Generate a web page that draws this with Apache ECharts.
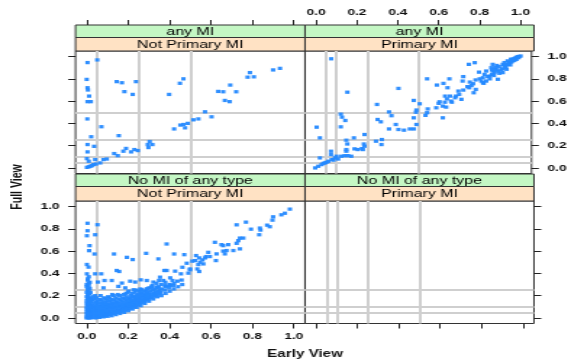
<!DOCTYPE html>
<html>
<head>
<meta charset="utf-8">
<script src="https://cdn.jsdelivr.net/npm/echarts@6/dist/echarts.min.js"></script>
<style>
  html, body { margin: 0; padding: 0; background: #fff; overflow: hidden; }
  /* the reference is stretched sideways, so draw narrow and widen with css */
  #chart { width: 394px; height: 363px; transform: scaleX(1.4492); transform-origin: 0 0; }
</style>
</head>
<body>
<div id="chart"></div>
<script>
const SX = 571 / 394;
function X(px) { return px / SX; }

// panel labels
const outerLevels = ["any MI", "No MI of any type"];
const innerLevels = ["Not Primary MI", "Primary MI"];
const tickValues = [0, 0.2, 0.4, 0.6, 0.8, 1.0];

// reference lines
const refXLeft = [0.05, 0.25, 0.5];
const refXRight = [0.05, 0.1, 0.25, 0.5];
const refYTop = [0.05, 0.1, 0.25, 0.5];
const refYBottom = [0.05, 0.1, 0.25];

// any MI / Not Primary MI  [early, full]
const anyNotPrimary = [
  [0.004,0.946],[0.051,0.97],[0.0,0.795],[0.004,0.72],[0.006,0.70],[0.012,0.645],[0.004,0.595],[0.02,0.595],
  [0.145,0.775],[0.17,0.765],[0.238,0.775],[0.182,0.685],[0.222,0.66],[0.467,0.80],[0.45,0.76],[0.398,0.66],
  [0.788,0.856],[0.777,0.815],[0.807,0.818],[0.90,0.88],[0.933,0.894],[0.693,0.744],[0.635,0.687],[0.659,0.684],
  [0.722,0.684],[0.667,0.606],[0.69,0.595],[0.571,0.504],[0.603,0.459],[0.539,0.44],[0.515,0.432],[0.488,0.40],
  [0.467,0.39],[0.452,0.385],[0.475,0.36],[0.422,0.35],[0.003,0.44],[0.071,0.37],[0.022,0.28],[0.155,0.29],
  [0.304,0.237],[0.295,0.21],[0.317,0.21],[0.298,0.183],[0.004,0.21],[0.036,0.194],[0.004,0.144],[0.19,0.175],
  [0.177,0.15],[0.214,0.144],[0.23,0.165],[0.247,0.156],[0.133,0.129],[0.15,0.11],[0.001,0.084],[0.041,0.075],
  [0.081,0.075],[0.097,0.08],[0.065,0.045],[0.033,0.03],[0.017,0.015],[0.001,0.005],[0.01,0.01],[0.025,0.02],
  [0.045,0.035],[0.01,0.06]
];

// any MI / Primary MI
const anyPrimary = [
  [0.074,0.98],[0.153,0.68],[0.403,0.714],[0.003,0.366],[0.019,0.27],[0.121,0.483],[0.127,0.456],[0.143,0.426],
  [0.121,0.369],[0.185,0.27],[0.148,0.249],[0.153,0.215],[0.237,0.30],[0.234,0.215],[0.298,0.57],[0.293,0.24],
  [0.322,0.255],[0.32,0.21],[0.301,0.435],[0.317,0.414],[0.357,0.503],[0.369,0.469],[0.357,0.35],[0.39,0.39],
  [0.403,0.345],[0.43,0.339],[0.459,0.35],[0.478,0.35],[0.491,0.39],[0.478,0.45],[0.489,0.50],[0.491,0.52],
  [0.507,0.576],[0.478,0.606],[0.535,0.472],[0.543,0.496],[0.546,0.53],[0.588,0.54],[0.604,0.594],[0.62,0.555],
  [0.62,0.45],[0.636,0.546],[0.664,0.59],[0.631,0.645],[0.655,0.645],[0.684,0.645],[0.696,0.69],[0.711,0.616],
  [0.72,0.699],[0.749,0.72],[0.771,0.675],[0.781,0.705],[0.643,0.72],[0.591,0.744],[0.623,0.759],[0.543,0.80],
  [0.652,0.80],[0.72,0.82],[0.717,0.78],[0.752,0.771],[0.768,0.756],[0.80,0.80],[0.816,0.765],[0.832,0.78],
  [0.797,0.86],[0.824,0.84],[0.849,0.825],[0.873,0.856],[0.881,0.885],[0.747,0.93],[0.776,0.945],[0.864,0.93],
  [0.884,0.92],[0.913,0.93],[0.921,0.946],[0.929,0.916],[0.937,0.961],[0.945,0.946],[0.953,0.976],[0.961,0.961],
  [0.969,0.982],[0.977,0.991],[0.985,1.0],[0.993,1.0],[1.0,1.005],[0.932,0.886],[0.905,0.88],[0.897,0.85],
  [0.913,0.856],[0.889,0.796],[0.865,0.87],[0.857,0.90],[0.832,0.87],[0.816,0.81],[0.808,0.78],[0.94,0.93],
  [0.955,0.95],[0.97,0.965],[0.925,0.9],[0.95,0.925],[0.89,0.87],[0.86,0.84],[0.84,0.82],[0.78,0.79],
  [0.86,0.88],[0.875,0.9],[0.895,0.91],[0.91,0.89],[0.92,0.92],[0.935,0.93],[0.96,0.975],[0.98,0.975],
  [0.99,0.99],[0.87,0.83],[0.85,0.80],[0.82,0.76],[0.76,0.74],[0.74,0.73],[0.70,0.66],[0.68,0.63],
  [0.66,0.60],[0.64,0.62],[0.60,0.58],[0.63,0.59],
  [-0.004,0.0],[0.011,0.015],[0.027,0.03],[0.043,0.045],[0.06,0.06],[0.076,0.075],[0.092,0.09],[0.108,0.08],
  [0.124,0.105],[0.14,0.11],[0.156,0.11],[0.172,0.105],[0.019,0.09],[0.073,0.15],[0.073,0.12],[0.10,0.105],
  [0.148,0.15],[0.188,0.171],[0.204,0.165],[0.224,0.174],[0.237,0.195],[0.229,0.165],[0.148,0.165],[0.035,0.04],
  [0.05,0.05],[0.085,0.07]
];

// No MI of any type / Not Primary MI
const noneNotPrimary = [
  [0.004,0.85],[0.052,0.837],[0.004,0.783],[0.001,0.738],[0.041,0.747],[0.014,0.649],[0.012,0.604],[0.038,0.574],
  [0.132,0.574],[0.001,0.48],[0.009,0.456],[0.001,0.396],[0.006,0.351],[0.009,0.313],[0.041,0.396],[0.07,0.396],
  [0.054,0.322],[0.086,0.336],[0.121,0.336],[0.145,0.426],[0.157,0.417],[0.194,0.544],[0.222,0.524],[0.287,0.58],
  [0.346,0.53],[0.386,0.664],[0.422,0.574],[0.471,0.568],[0.51,0.51],[0.483,0.491],[0.462,0.455],[0.499,0.432],
  [0.491,0.402],[0.455,0.396],[0.427,0.42],[0.386,0.426],[0.375,0.426],[0.403,0.36],[0.414,0.336],[0.354,0.366],
  [0.37,0.336],[0.399,0.292],[0.378,0.292],[0.349,0.336],[0.322,0.322],[0.29,0.336],[0.261,0.342],[0.234,0.322],
  [0.21,0.33],[0.17,0.313],[0.153,0.283],[0.186,0.27],[0.081,0.27],[0.338,0.277],[0.314,0.283],[0.29,0.262],
  [0.266,0.253],[0.226,0.253],[0.202,0.241],
  [0.981,0.977],[0.957,0.94],[0.94,0.926],[0.90,0.908],[0.897,0.878],[0.871,0.833],[0.884,0.819],[0.836,0.807],
  [0.839,0.789],[0.833,0.747],[0.769,0.86],[0.724,0.836],[0.793,0.797],[0.756,0.717],[0.74,0.717],[0.732,0.694],
  [0.724,0.67],[0.74,0.62],[0.708,0.605],[0.683,0.658],[0.659,0.649],[0.651,0.658],[0.675,0.605],[0.659,0.60],
  [0.667,0.575],[0.627,0.575],[0.619,0.679],[0.587,0.589],[0.595,0.551],[0.576,0.551],[0.624,0.515],[0.528,0.56],
  [0.523,0.515],[0.543,0.539],[0.559,0.521],[0.571,0.539],[0.547,0.50],[0.563,0.485],[0.539,0.479],[0.534,0.44],
  [0.543,0.417],[0.499,0.44],
  [0.0,0.0],[0.01,0.0],[0.02,0.005],[0.0,0.01],[0.012,0.015],[0.005,0.025],[0.016,0.03],[0.0,0.035],
  [0.01,0.045],[0.02,0.05],[0.0,0.055],[0.011,0.06],[0.005,0.07],[0.015,0.075],[0.0,0.08],[0.01,0.09],
  [0.02,0.095],[0.0,0.1],[0.012,0.11],[0.005,0.12],[0.016,0.125],[0.0,0.13],[0.01,0.14],[0.02,0.15],
  [0.0,0.155],[0.011,0.165],[0.005,0.175],[0.015,0.18],[0.0,0.19],[0.01,0.2],[0.005,0.21],[0.015,0.22],
  [0.0,0.23],[0.01,0.24],[0.005,0.255],[0.015,0.265],[0.0,0.28],[0.01,0.29],
  [0.018,0.0],[0.022,0.02],[0.025,0.06],[0.02,0.11],[0.022,0.17],[0.018,0.23],[0.0,0.30],[0.015,0.32],
  [0.005,0.34],[0.01,0.37],
  [0.03,0.005],[0.032,0.02],[0.028,0.04],[0.031,0.06],[0.029,0.08],[0.033,0.1],[0.03,0.13],[0.027,0.16],[0.032,0.19],
  [0.042,0.0],[0.039,0.025],[0.041,0.045],[0.038,0.07],[0.042,0.09],[0.04,0.11],[0.043,0.14],[0.039,0.17],[0.041,0.20],
  [0.05,0.01],[0.052,0.03],[0.048,0.05],[0.051,0.07],[0.049,0.09],[0.053,0.12],[0.05,0.15],[0.047,0.18],
  [0.061,0.005],[0.058,0.02],[0.062,0.04],[0.06,0.065],[0.057,0.085],[0.061,0.105],[0.059,0.135],[0.062,0.165],
  [0.07,0.015],[0.072,0.035],[0.068,0.06],[0.071,0.08],[0.069,0.1],[0.073,0.13],[0.07,0.16],[0.067,0.2],
  [0.081,0.01],[0.078,0.025],[0.082,0.05],[0.08,0.07],[0.077,0.095],[0.081,0.12],[0.079,0.145],[0.083,0.18],
  [0.09,0.02],[0.092,0.04],[0.088,0.065],[0.091,0.09],[0.089,0.11],[0.093,0.14],[0.09,0.17],
  [0.101,0.015],[0.098,0.035],[0.102,0.055],[0.1,0.08],[0.097,0.10],[0.101,0.125],[0.099,0.155],[0.103,0.19],
  [0.11,0.03],[0.112,0.05],[0.108,0.07],[0.111,0.095],[0.109,0.12],[0.113,0.15],[0.11,0.18],
  [0.121,0.02],[0.118,0.04],[0.122,0.06],[0.12,0.085],[0.117,0.11],[0.121,0.135],[0.119,0.165],[0.123,0.21],
  [0.13,0.04],[0.132,0.06],[0.128,0.08],[0.131,0.1],[0.129,0.13],[0.133,0.16],[0.13,0.2],
  [0.141,0.03],[0.138,0.05],[0.142,0.07],[0.14,0.095],[0.137,0.12],[0.141,0.145],[0.139,0.18],
  [0.15,0.05],[0.152,0.07],[0.148,0.09],[0.151,0.11],[0.149,0.14],[0.153,0.17],[0.15,0.21],
  [0.161,0.04],[0.158,0.06],[0.162,0.08],[0.16,0.105],[0.157,0.13],[0.161,0.16],[0.159,0.20],
  [0.17,0.06],[0.172,0.08],[0.168,0.1],[0.171,0.12],[0.169,0.15],[0.173,0.18],
  [0.181,0.05],[0.178,0.07],[0.182,0.09],[0.18,0.11],[0.177,0.14],[0.181,0.17],[0.179,0.21],
  [0.19,0.075],[0.192,0.095],[0.188,0.115],[0.191,0.135],[0.189,0.16],[0.193,0.19],[0.19,0.22],
  [0.201,0.065],[0.198,0.085],[0.202,0.105],[0.2,0.125],[0.197,0.145],[0.201,0.17],[0.199,0.23],
  [0.21,0.09],[0.212,0.11],[0.208,0.13],[0.211,0.15],[0.209,0.175],[0.213,0.2],
  [0.221,0.08],[0.218,0.1],[0.222,0.12],[0.22,0.14],[0.217,0.16],[0.221,0.19],[0.219,0.22],
  [0.23,0.1],[0.232,0.12],[0.228,0.14],[0.231,0.165],[0.229,0.19],[0.233,0.23],
  [0.241,0.095],[0.238,0.115],[0.242,0.135],[0.24,0.155],[0.237,0.175],[0.241,0.2],[0.239,0.25],
  [0.25,0.12],[0.252,0.14],[0.248,0.16],[0.251,0.18],[0.249,0.21],[0.253,0.24],
  [0.261,0.11],[0.258,0.13],[0.262,0.15],[0.26,0.17],[0.257,0.19],[0.261,0.22],[0.259,0.26],
  [0.27,0.14],[0.272,0.16],[0.268,0.18],[0.271,0.2],[0.269,0.23],
  [0.281,0.13],[0.278,0.15],[0.282,0.17],[0.28,0.19],[0.277,0.21],[0.281,0.24],
  [0.29,0.16],[0.292,0.18],[0.288,0.2],[0.291,0.22],[0.289,0.25],
  [0.301,0.15],[0.298,0.17],[0.302,0.19],[0.3,0.21],[0.297,0.23],[0.301,0.27],
  [0.31,0.18],[0.312,0.21],[0.308,0.24],[0.311,0.27],
  [0.321,0.17],[0.318,0.19],[0.322,0.22],[0.32,0.25],[0.317,0.29],
  [0.33,0.2],[0.332,0.23],[0.328,0.26],[0.341,0.19],[0.338,0.21],[0.342,0.24],[0.34,0.27],[0.337,0.31],
  [0.35,0.22],[0.352,0.25],[0.348,0.28],[0.361,0.2],[0.358,0.23],[0.362,0.26],[0.36,0.30],
  [0.381,0.22],[0.378,0.25],[0.382,0.28],[0.38,0.32],[0.401,0.24],[0.398,0.27],[0.402,0.30],
  [0.421,0.26],[0.418,0.29],[0.422,0.31],[0.441,0.28],[0.438,0.33],[0.461,0.30],[0.458,0.34]
];

// No MI of any type / Primary MI: empty
const nonePrimary = [];

const panelData = [anyNotPrimary, anyPrimary, noneNotPrimary, nonePrimary];
const refX = [refXLeft, refXRight, refXLeft, refXRight];
const refY = [refYTop, refYTop, refYBottom, refYBottom];

// pixel boxes of the four panels (in page pixels, squeezed by X())
const boxes = [
  { left: X(75.5), top: 51, width: X(229.5), height: 122.5 },
  { left: X(305), top: 51, width: X(229), height: 122.5 },
  { left: X(75.5), top: 201, width: X(229.5), height: 122.5 },
  { left: X(305), top: 201, width: X(229), height: 122.5 }
];

const labelStyle = {
  fontFamily: "Liberation Sans",
  fontSize: 9.5,
  fontWeight: "bold",
  color: "#111"
};

function makeAxis(dim, i, position, showLabel, offset) {
  return {
    type: "value",
    gridIndex: i,
    position: position,
    offset: offset,
    min: dim === "x" ? -0.054 : -0.05,
    max: dim === "x" ? 1.054 : 1.05,
    axisLine: { show: false, onZero: false },
    splitLine: { show: false },
    axisTick: {
      show: true,
      inside: false,
      length: 5,
      lineStyle: { color: "#222", width: 1 },
      customValues: tickValues
    },
    axisLabel: Object.assign({
      show: showLabel,
      margin: dim === "x" ? 8 : 11,
      customValues: tickValues,
      formatter: function (v) { return v.toFixed(1); }
    }, labelStyle)
  };
}

const xAxes = [
  makeAxis("x", 0, "top", false, 26),
  makeAxis("x", 1, "top", true, 26),
  makeAxis("x", 2, "bottom", true, 0),
  makeAxis("x", 3, "bottom", false, 0)
];
const yAxes = [
  makeAxis("y", 0, "left", false, 0),
  makeAxis("y", 1, "right", true, 0),
  makeAxis("y", 2, "left", true, 0),
  makeAxis("y", 3, "right", false, 0)
];

const series = panelData.map(function (d, i) {
  const lines = refX[i].map(function (v) { return { xAxis: v }; })
    .concat(refY[i].map(function (v) { return { yAxis: v }; }));
  return {
    type: "scatter",
    xAxisIndex: i,
    yAxisIndex: i,
    data: d,
    symbol: "rect",
    symbolSize: [3, 3.3],
    itemStyle: { color: "#2489ff", opacity: 0.95 },
    z: 3,
    markLine: {
      silent: true,
      symbol: ["none", "none"],
      label: { show: false },
      lineStyle: { color: "#cfcfcf", width: 2, type: "solid" },
      data: lines,
      z: 1
    }
  };
});

// strips above each panel
const graphics = [];
boxes.forEach(function (b, i) {
  const row = Math.floor(i / 2), col = i % 2;
  const y0 = row === 0 ? 25 : 174;
  const h1 = 12.5;
  const h2 = b.top - y0 - h1;
  graphics.push({
    type: "rect",
    shape: { x: b.left, y: y0, width: b.width, height: h1 },
    style: { fill: "#c4f7c4", stroke: "#333", lineWidth: 1 }
  });
  graphics.push({
    type: "rect",
    shape: { x: b.left, y: y0 + h1, width: b.width, height: h2 },
    style: { fill: "#ffe2c4", stroke: "#333", lineWidth: 1 }
  });
  graphics.push({
    type: "text",
    x: b.left + b.width / 2, y: y0 + h1 / 2 + 0.5,
    style: { text: outerLevels[row], fill: "#000", font: "11px 'Liberation Sans'", align: "center", verticalAlign: "middle" }
  });
  graphics.push({
    type: "text",
    x: b.left + b.width / 2, y: y0 + h1 + h2 / 2 + 0.5,
    style: { text: innerLevels[col], fill: "#000", font: "11px 'Liberation Sans'", align: "center", verticalAlign: "middle" }
  });
});
graphics.push({
  type: "text", x: X(18), y: 187, rotation: Math.PI / 2,
  style: { text: "Full View", fill: "#111", font: "bold 10.5px 'Liberation Sans'", align: "center", verticalAlign: "middle" }
});
graphics.push({
  type: "text", x: X(305), y: 354,
  style: { text: "Early View", fill: "#111", font: "bold 10.5px 'Liberation Sans'", align: "center", verticalAlign: "middle" }
});

const chart = echarts.init(document.getElementById("chart"), null, { renderer: "canvas" });
chart.setOption({
  animation: false,
  backgroundColor: "#fff",
  grid: boxes.map(function (b) {
    return Object.assign({ show: true, borderColor: "#333", borderWidth: 1, backgroundColor: "transparent", containLabel: false }, b);
  }),
  xAxis: xAxes,
  yAxis: yAxes,
  series: series,
  graphic: graphics
});
</script>
</body>
</html>
